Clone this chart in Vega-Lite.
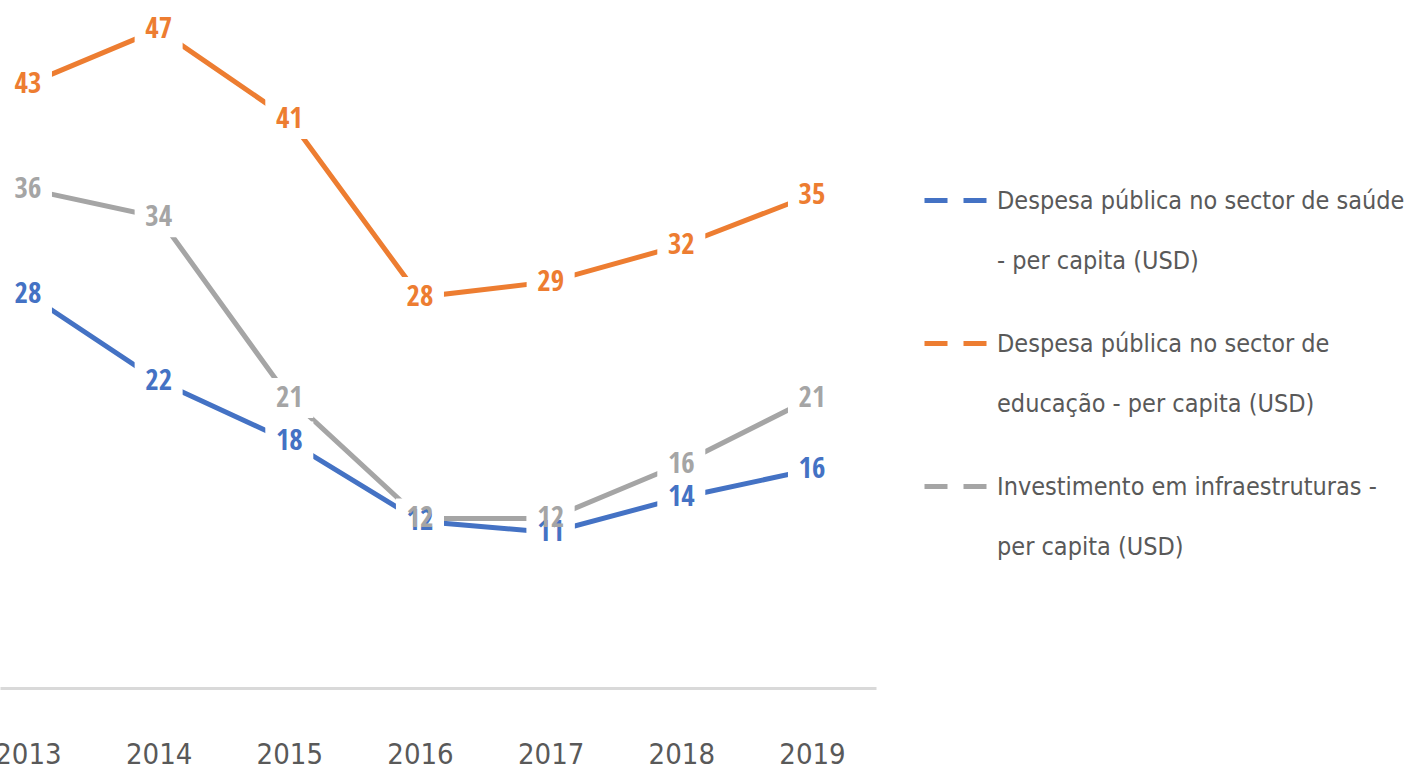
{
  "$schema": "https://vega.github.io/schema/vega-lite/v6.json",
  "width": 876,
  "height": 688,
  "padding": {"left": 0, "top": 0, "right": 530, "bottom": 86},
  "autosize": "none",
  "background": "white",
  "config": {"view": {"stroke": null}, "font": "DejaVu Sans Condensed"},
  "data": {
    "values": [
      {"year": 2013, "series": "Despesa pública no sector de saúde - per capita (USD)", "value": 28.1},
      {"year": 2014, "series": "Despesa pública no sector de saúde - per capita (USD)", "value": 21.9},
      {"year": 2015, "series": "Despesa pública no sector de saúde - per capita (USD)", "value": 17.6},
      {"year": 2016, "series": "Despesa pública no sector de saúde - per capita (USD)", "value": 11.9},
      {"year": 2017, "series": "Despesa pública no sector de saúde - per capita (USD)", "value": 11.1},
      {"year": 2018, "series": "Despesa pública no sector de saúde - per capita (USD)", "value": 13.6},
      {"year": 2019, "series": "Despesa pública no sector de saúde - per capita (USD)", "value": 15.6},
      {"year": 2013, "series": "Despesa pública no sector de educação - per capita (USD)", "value": 43.1},
      {"year": 2014, "series": "Despesa pública no sector de educação - per capita (USD)", "value": 47.0},
      {"year": 2015, "series": "Despesa pública no sector de educação - per capita (USD)", "value": 40.6},
      {"year": 2016, "series": "Despesa pública no sector de educação - per capita (USD)", "value": 27.9},
      {"year": 2017, "series": "Despesa pública no sector de educação - per capita (USD)", "value": 29.0},
      {"year": 2018, "series": "Despesa pública no sector de educação - per capita (USD)", "value": 31.6},
      {"year": 2019, "series": "Despesa pública no sector de educação - per capita (USD)", "value": 35.2},
      {"year": 2013, "series": "Investimento em infraestruturas - per capita (USD)", "value": 35.6},
      {"year": 2014, "series": "Investimento em infraestruturas - per capita (USD)", "value": 33.6},
      {"year": 2015, "series": "Investimento em infraestruturas - per capita (USD)", "value": 20.7},
      {"year": 2016, "series": "Investimento em infraestruturas - per capita (USD)", "value": 12.1},
      {"year": 2017, "series": "Investimento em infraestruturas - per capita (USD)", "value": 12.1},
      {"year": 2018, "series": "Investimento em infraestruturas - per capita (USD)", "value": 16.0},
      {"year": 2019, "series": "Investimento em infraestruturas - per capita (USD)", "value": 20.7}
    ]
  },
  "encoding": {
    "x": {
      "field": "year",
      "type": "quantitative",
      "scale": {"domain": [2012.786, 2019.49], "nice": false, "zero": false},
      "axis": {
        "values": [2013, 2014, 2015, 2016, 2017, 2018, 2019],
        "format": "d",
        "title": null,
        "grid": false,
        "ticks": false,
        "domainColor": "#d9d9d9",
        "domainWidth": 3,
        "labelFont": "DejaVu Sans Condensed",
        "labelFontSize": 29,
        "labelColor": "#595959",
        "labelPadding": 52,
        "labelFlush": false,
        "labelOverlap": false
      }
    },
    "y": {
      "field": "value",
      "type": "quantitative",
      "scale": {"domain": [0, 49.1], "nice": false},
      "axis": null
    },
    "color": {
      "field": "series",
      "type": "nominal",
      "scale": {
        "domain": [
          "Despesa pública no sector de saúde - per capita (USD)",
          "Despesa pública no sector de educação - per capita (USD)",
          "Investimento em infraestruturas - per capita (USD)"
        ],
        "range": ["#4472C4", "#ED7D31", "#A5A5A5"]
      },
      "legend": {
        "orient": "none",
        "legendX": 922,
        "legendY": 167,
        "title": null,
        "symbolType": "stroke",
        "symbolSize": 3844,
        "symbolStrokeWidth": 5,
        "symbolDash": [23, 16],
        "labelFont": "DejaVu Sans Condensed",
        "labelFontSize": 25,
        "labelColor": "#595959",
        "labelLimit": 600,
        "labelOffset": 8,
        "rowPadding": 36,
        "labelExpr": "datum.label == 'Despesa pública no sector de saúde - per capita (USD)' ? ['Despesa pública no sector de saúde', '- per capita (USD)'] : datum.label == 'Despesa pública no sector de educação - per capita (USD)' ? ['Despesa pública no sector de', 'educação - per capita (USD)'] : ['Investimento em infraestruturas -', 'per capita (USD)']",
        "encode": {"labels": {"update": {"lineHeight": {"value": 60}}}}
      }
    }
  },
  "layer": [
    {"mark": {"type": "line", "strokeWidth": 5, "strokeCap": "butt"}},
    {
      "mark": {"type": "point", "shape": "M-1.2,-1H1.2V1H-1.2Z", "filled": true, "opacity": 1, "size": 1600},
      "encoding": {"color": {"value": "white"}}
    },
    {
      "mark": {"type": "text", "fontSize": 29, "fontWeight": "bold", "font": "Open Sans Condensed"},
      "encoding": {"text": {"field": "value", "type": "quantitative", "format": ".0f"}}
    }
  ]
}
